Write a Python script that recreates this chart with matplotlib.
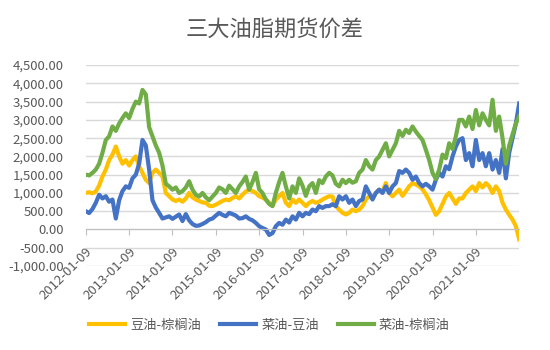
import matplotlib
matplotlib.use('Agg')
import matplotlib.pyplot as plt
import pandas as pd
from matplotlib.ticker import FuncFormatter, MultipleLocator

plt.rcParams['font.family'] = ['Noto Sans CJK SC', 'DejaVu Sans']

# 4-weekly sample points, 2012-01-09 .. 2021-12
dates = pd.date_range('2012-01-09', periods=131, freq='28D')

soy_palm = [
    1000, 1020, 990, 1040, 1200, 1450, 1640, 1900, 2050, 2270,
    2000, 1800, 1900, 1750, 1900, 2000, 1730, 1550, 1360, 1270,
    1550, 1640, 1550, 1450, 1000, 910, 820, 780, 820, 760,
    850, 1000, 880, 820, 780, 740, 730, 650, 640, 680,
    730, 780, 820, 800, 860, 910, 850, 950, 1040, 1090,
    1050, 1000, 910, 870, 820, 730, 640, 820, 910, 1000,
    730, 640, 820, 730, 820, 730, 640, 730, 780, 730,
    760, 820, 870, 910, 900, 640, 545, 455, 410, 455,
    545, 500, 545, 640, 820, 910, 850, 1000, 1090, 1050,
    1270, 1000, 910, 1000, 1090, 920, 1050, 1180, 1270, 1230,
    1180, 1100, 960, 800, 600, 400, 500, 700, 900, 1000,
    850, 700, 850, 850, 1000, 1090, 1180, 1050, 1270, 1150,
    1270, 1180, 1000, 1180, 1050, 730, 545, 400, 270, 90,
    -270,
]

rape_soy = [
    500, 450, 560, 730, 950, 850, 910, 760, 820, 300,
    800, 1050, 1180, 1140, 1400, 1500, 1800, 2450, 2300, 1640,
    800, 600, 455, 300, 330, 360, 290, 350, 410, 230,
    420, 250, 150, 100, 110, 150, 200, 270, 300, 380,
    455, 400, 360, 455, 420, 380, 300, 310, 360, 290,
    250, 180, 90, 40, 0, -150, -100, 90, 180, 130,
    270, 190, 360, 270, 455, 360, 455, 420, 545, 500,
    640, 590, 640, 640, 690, 640, 910, 820, 910, 730,
    820, 640, 780, 820, 1180, 1000, 820, 1000, 1090, 1000,
    1180, 1000, 1180, 1270, 1600, 1550, 1640, 1550, 1360, 1450,
    1270, 1180, 1250, 1180, 1090, 1360, 1550, 1450, 1730, 1650,
    2000, 2270, 2450, 2500, 1900, 2090, 1730, 2450, 1900, 2090,
    1730, 2090, 1640, 1900, 1550, 2200, 1400, 2100, 2500, 2900,
    3450,
]

rape_palm = [
    1500, 1480, 1550, 1640, 1800, 2100, 2450, 2550, 2820, 2700,
    2900, 3050, 3180, 3050, 3300, 3500, 3450, 3820, 3700, 2800,
    2550, 2300, 2100, 1750, 1250, 1180, 1090, 1150, 1000, 1050,
    1150, 1320, 1090, 950, 900, 1000, 880, 800, 900, 1000,
    1150, 1100, 1000, 1200, 1100, 1000, 1180, 1300, 1450, 1090,
    1300, 1550, 1100, 1000, 820, 700, 640, 1000, 1300, 1550,
    1180, 850, 1180, 1000, 1400, 1200, 920, 1180, 1270, 1000,
    1350, 1270, 1450, 1550, 1480, 1250, 1180, 1360, 1270, 1360,
    1280, 1320, 1550, 1640, 1900, 1730, 1640, 1900, 2000, 2180,
    2360, 2000, 2180, 2360, 2700, 2560, 2730, 2640, 2820, 2680,
    2560, 2450, 2180, 1900, 1550, 1380, 1640, 2050, 1950, 2360,
    2200, 2550, 3000, 3000, 2820, 3090, 2750, 3270, 2850, 3180,
    3000, 2850, 3550, 2700, 3090, 2500, 1800, 2300, 2600, 2900,
    3100,
]

series_names = ['豆油-棕榈油', '菜油-豆油', '菜油-棕榈油']
series_colors = ['#FFC000', '#4472C4', '#70AD47']

years = list(range(2012, 2022))
tick_pos = [i * 13 for i in range(len(years))]
tick_labels = [f'{y}-01-09' for y in years]

fig = plt.figure(figsize=(5.5, 3.5), dpi=100)
ax = fig.add_axes([0.156, 0.24, 0.788, 0.574])

x = list(range(len(dates)))
for vals, name, col in zip([soy_palm, rape_soy, rape_palm], series_names, series_colors):
    ax.plot(x, vals, color=col, lw=3.0, label=name, solid_joinstyle='round')

ax.set_xlim(0, len(dates) - 1)
ax.set_ylim(-1000, 4500)
ax.yaxis.set_major_locator(MultipleLocator(500))
ax.yaxis.set_major_formatter(FuncFormatter(lambda v, p: f'{v:,.2f}'))
ax.grid(axis='y', color='#D9D9D9', lw=1)
ax.set_axisbelow(True)

for s in ['top', 'right', 'left']:
    ax.spines[s].set_visible(False)
ax.spines['bottom'].set_position(('data', 0))
ax.spines['bottom'].set_color('#BFBFBF')

ax.set_xticks(tick_pos)
ax.set_xticklabels(tick_labels, rotation=45, ha='right', va='top',
                   rotation_mode='anchor')
ax.tick_params(axis='x', length=4, color='#BFBFBF', pad=7,
               labelsize=9.5, labelcolor='#595959')
ax.tick_params(axis='y', length=0, pad=16, labelsize=9.5, labelcolor='#595959')

fig.suptitle('三大油脂期货价差', x=0.5, y=0.945, fontsize=16, color='#595959')

fig.legend(loc='center', bbox_to_anchor=(0.49, 0.07), ncol=3, frameon=False,
           fontsize=9.5, handlelength=2.7, handletextpad=0.4, columnspacing=1.45,
           labelcolor='#595959')

fig.savefig('out.png', dpi=100)
